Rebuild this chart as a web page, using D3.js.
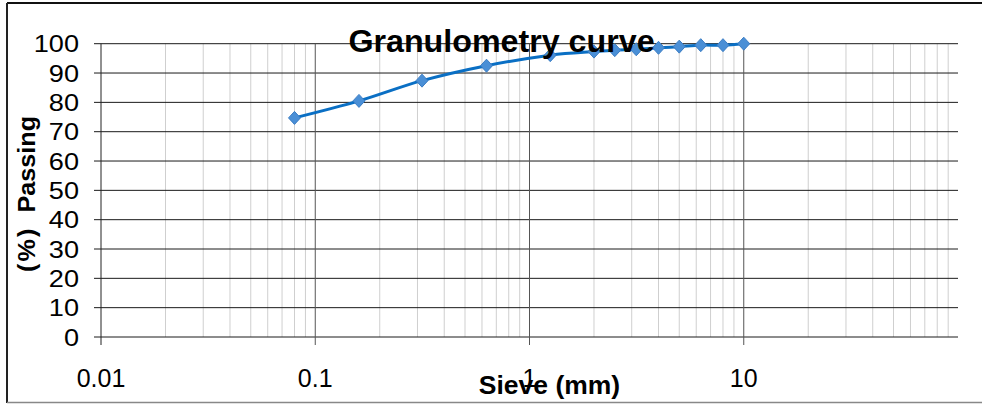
<!DOCTYPE html>
<html>
<head>
<meta charset="utf-8">
<script src="https://cdn.jsdelivr.net/npm/d3@7"></script>
<style>
  html, body { margin: 0; padding: 0; background: #fff; }
  svg { display: block; font-family: "Liberation Sans", Arial, sans-serif; }
</style>
</head>
<body>
<svg id="chart" width="982" height="404"></svg>
<script>
// ---- data ----
const sieveSizes = [0.08, 0.16, 0.315, 0.63, 1.25, 2, 2.5, 3.15, 4, 5, 6.3, 8, 10];
const passing    = [74.7, 80.5, 87.4, 92.5, 96.1, 97.3, 97.8, 98.1, 98.6, 99.0, 99.5, 99.5, 100];
const xTickValues = [0.01, 0.1, 1, 10];
const xTickLabels = ["0.01", "0.1", "1", "10"];
const yTickValues = [0, 10, 20, 30, 40, 50, 60, 70, 80, 90, 100];
const titleText = "Granulometry curve";
const xTitleText = "Sieve (mm)";

(function () {
const svg = d3.select("#chart");
const pLeft = 101, pRight = 958, pTop = 43.7, pBottom = 337;

const x = d3.scaleLog().domain([0.01, 100]).range([pLeft, pRight]);
const y = d3.scaleLinear().domain([0, 100]).range([pBottom, pTop]);

// outer border
svg.append("line").attr("x1", 7).attr("x2", 982).attr("y1", 3).attr("y2", 3)
  .attr("stroke", "#111").attr("stroke-width", 2);
svg.append("line").attr("x1", 7).attr("x2", 7).attr("y1", 3).attr("y2", 403)
  .attr("stroke", "#222").attr("stroke-width", 2);
svg.append("line").attr("x1", 7).attr("x2", 982).attr("y1", 402.5).attr("y2", 402.5)
  .attr("stroke", "#888").attr("stroke-width", 1.5);

// minor vertical gridlines
const minor = [];
for (let d = -2; d < 2; d++) {
  for (let m = 2; m <= 9; m++) minor.push(m * Math.pow(10, d));
}
svg.append("g").selectAll("line").data(minor).join("line")
  .attr("x1", d => x(d)).attr("x2", d => x(d))
  .attr("y1", pTop).attr("y2", pBottom)
  .attr("stroke", "#cfcfcf").attr("stroke-width", 1);

// horizontal gridlines (with tick extension)
svg.append("g").selectAll("line").data(yTickValues).join("line")
  .attr("x1", pLeft - 7).attr("x2", pRight)
  .attr("y1", d => y(d)).attr("y2", d => y(d))
  .attr("stroke", "#1a1a1a").attr("stroke-width", 1);

// major vertical gridlines + x ticks
svg.append("g").selectAll("line").data(xTickValues).join("line")
  .attr("x1", d => x(d)).attr("x2", d => x(d))
  .attr("y1", pTop).attr("y2", pBottom + 8)
  .attr("stroke", d => d === 0.01 ? "#222" : "#555").attr("stroke-width", 1);

// y tick labels (slightly widened glyphs like the reference)
svg.append("g").selectAll("text").data(yTickValues).join("text")
  .attr("transform", d => `translate(79,${y(d)}) scale(1.13,1)`)
  .attr("dy", "0.36em")
  .attr("text-anchor", "end").attr("font-size", 24).attr("fill", "#000")
  .text(d => d);

// x tick labels
svg.append("g").selectAll("text").data(xTickValues).join("text")
  .attr("x", d => x(d)).attr("y", 387)
  .attr("text-anchor", "middle").attr("font-size", 25).attr("fill", "#000")
  .text((d, i) => xTickLabels[i]);

// x axis title
svg.append("text").attr("transform", "translate(549.5,394) scale(1.06,1)")
  .attr("text-anchor", "middle").attr("font-size", 25).attr("font-weight", "bold")
  .text(xTitleText);

// y axis title
const yt = svg.append("text")
  .attr("transform", "translate(35,194) rotate(-90) scale(1.05,1)")
  .attr("text-anchor", "middle").attr("font-size", 24).attr("font-weight", "bold");
yt.append("tspan").attr("letter-spacing", 2).text("(%)");
yt.append("tspan").text("\u00a0\u00a0Passing");

// curve
const pts = sieveSizes.map((s, i) => [s, passing[i]]);
const line = d3.line().x(d => x(d[0])).y(d => y(d[1])).curve(d3.curveCardinal.tension(0));
svg.append("path").datum(pts).attr("d", line)
  .attr("fill", "none").attr("stroke", "#0a6fc4").attr("stroke-width", 3);

// markers
svg.append("g").selectAll("path").data(pts).join("path")
  .attr("transform", d => `translate(${x(d[0])},${y(d[1])})`)
  .attr("d", "M0,-6.5L6,0L0,6.5L-6,0Z")
  .attr("fill", "#4a8fd6").attr("stroke", "#3b7dc4").attr("stroke-width", 1);

// title (drawn on top)
svg.append("text").attr("transform", "translate(501.5,52) scale(1.04,1)")
  .attr("text-anchor", "middle").attr("font-size", 31).attr("font-weight", "bold")
  .text(titleText);
})();
</script>
</body>
</html>
